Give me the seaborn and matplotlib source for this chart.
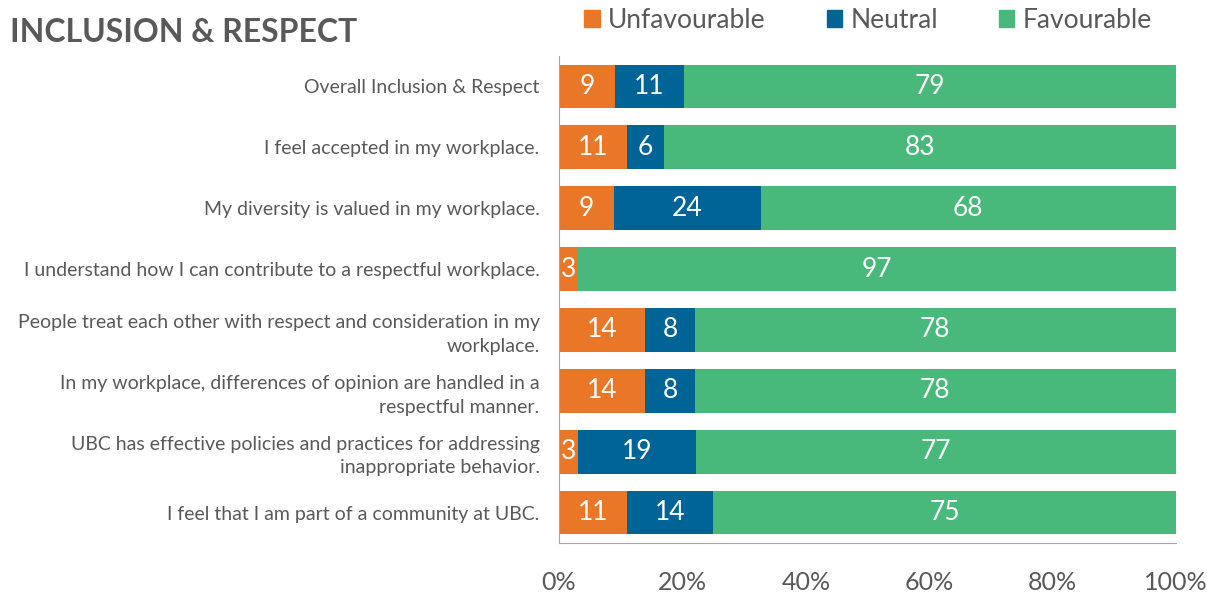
import numpy as np
import pandas as pd
import seaborn as sns
import matplotlib.pyplot as plt
from matplotlib.patches import Patch

# survey items and scores (% as shown on the bars)
items = [
    "Overall Inclusion & Respect",
    "I feel accepted in my workplace.",
    "My diversity is valued in my workplace.",
    "I understand how I can contribute to a respectful workplace.",
    "People treat each other with respect and consideration in my\nworkplace.",
    "In my workplace, differences of opinion are handled in a\nrespectful manner.",
    "UBC has effective policies and practices for addressing\ninappropriate behavior.",
    "I feel that I am part of a community at UBC.",
]
unfavourable = [9, 11, 9, 3, 14, 14, 3, 11]
neutral = [11, 6, 24, 0, 8, 8, 19, 14]
favourable = [79, 83, 68, 97, 78, 78, 77, 75]

c_unf = "#E97727"
c_neu = "#006496"
c_fav = "#48B97A"
grey = "#595959"

df = pd.DataFrame({"item": items, "unf": unfavourable, "neu": neutral, "fav": favourable})
tot = df[["unf", "neu", "fav"]].sum(axis=1)
df["p_unf"] = df["unf"] / tot * 100
df["p_neu"] = df["neu"] / tot * 100
df["p_fav"] = df["fav"] / tot * 100
df["c1"] = df["p_unf"]
df["c2"] = df["p_unf"] + df["p_neu"]
df["c3"] = df["c2"] + df["p_fav"]

sns.set_style("white")
plt.rcParams["font.family"] = ["Lato", "DejaVu Sans"]

fig = plt.figure(figsize=(12.07, 5.94), dpi=100)
ax = fig.add_axes([559 / 1207, 1 - 543 / 594, (1176 - 559) / 1207, (543 - 56) / 594])

# layered bars: total (green) then cumulative neutral (blue) then unfavourable (orange)
sns.barplot(data=df, x="c3", y="item", color=c_fav, orient="h", width=0.72, ax=ax, saturation=1)
sns.barplot(data=df, x="c2", y="item", color=c_neu, orient="h", width=0.72, ax=ax, saturation=1)
sns.barplot(data=df, x="c1", y="item", color=c_unf, orient="h", width=0.72, ax=ax, saturation=1)
for p in ax.patches:
    p.set_edgecolor("none")

# value labels
for i, row in df.iterrows():
    for val, start, width in [(row["unf"], 0, row["p_unf"]),
                              (row["neu"], row["c1"], row["p_neu"]),
                              (row["fav"], row["c2"], row["p_fav"])]:
        if val > 0:
            ax.text(start + width / 2, i, f"{val}", ha="center", va="center",
                    color="white", fontsize=19)

ax.set_xlim(0, 100)
ax.set_ylim(7.5, -0.5)
ax.set_xlabel("")
ax.set_ylabel("")
ax.set_xticks(np.arange(0, 101, 20))
ax.set_xticklabels([f"{t}%" for t in range(0, 101, 20)], fontsize=18, color=grey)
ax.tick_params(axis="x", direction="out", length=6, color="#A6A6A6", pad=14)
ax.tick_params(axis="y", which="major", length=0, pad=14, labelsize=14, labelcolor=grey)
ax.set_yticks(np.arange(-0.5, 8, 1), minor=True)
ax.tick_params(axis="y", which="minor", direction="out", length=5, color="#A6A6A6")
for lab in ax.get_yticklabels():
    lab.set_horizontalalignment("right")
    lab.set_multialignment("right")
    lab.set_linespacing(1.45)
for s in ["top", "right"]:
    ax.spines[s].set_visible(False)
for s in ["left", "bottom"]:
    ax.spines[s].set_color("#A6A6A6")

fig.text(10 / 1207, 1 - 33 / 594, "INCLUSION & RESPECT", fontsize=23, fontweight="bold",
         color=grey, va="center", ha="left")

handles = [Patch(color=c_unf, label="Unfavourable"),
           Patch(color=c_neu, label="Neutral"),
           Patch(color=c_fav, label="Favourable")]
leg = fig.legend(handles=handles, loc="center", bbox_to_anchor=(868 / 1207, 1 - 20 / 594),
                 ncol=3, frameon=False, fontsize=19, handlelength=0.6, handleheight=0.6,
                 handletextpad=0.3, columnspacing=2.3)
for t in leg.get_texts():
    t.set_color(grey)

fig.savefig("out.png", dpi=100)
